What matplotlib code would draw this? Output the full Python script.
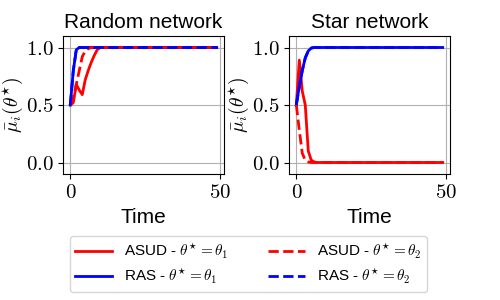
import matplotlib
matplotlib.use('Agg')
import matplotlib.pyplot as plt
import numpy as np
from matplotlib.ticker import FuncFormatter

plt.rcParams['font.family'] = ['Liberation Sans', 'DejaVu Sans']
plt.rcParams['mathtext.fontset'] = 'cm'

# Data, t = 0..49
time = list(range(50))

rand_asud_1 = [0.5, 0.52, 0.68, 0.63, 0.59, 0.72, 0.80, 0.87, 0.93, 0.98] + [1.0] * 40
rand_asud_2 = [0.5, 0.55, 0.68, 0.80, 0.92, 0.97, 0.99] + [1.0] * 43
rand_ras_1 = [0.5, 0.80, 0.98, 1.0] + [1.0] * 46
rand_ras_2 = [0.5, 0.80, 0.98, 1.0] + [1.0] * 46

star_asud_1 = [0.5, 0.89, 0.62, 0.50, 0.10, 0.02, 0.005] + [0.0] * 43
star_asud_2 = [0.5, 0.28, 0.08, 0.02, 0.005] + [0.0] * 45
star_ras_1 = [0.5, 0.66, 0.80, 0.91, 0.97, 0.995] + [1.0] * 44
star_ras_2 = [0.5, 0.66, 0.80, 0.91, 0.97, 0.995] + [1.0] * 44

titles = ['Random network', 'Star network']
panels = [
    (rand_asud_1, rand_ras_1, rand_asud_2, rand_ras_2),
    (star_asud_1, star_ras_1, star_asud_2, star_ras_2),
]
labels = [r'ASUD - $\theta^{\star} = \theta_1$', r'RAS - $\theta^{\star} = \theta_1$',
          r'ASUD - $\theta^{\star} = \theta_2$', r'RAS - $\theta^{\star} = \theta_2$']
colors = ['red', 'blue', 'red', 'blue']
styles = ['-', '-', '--', '--']

fig = plt.figure(figsize=(5, 3), dpi=100)
ax_pos = [[0.126, 0.42, 0.322, 0.46], [0.578, 0.42, 0.322, 0.46]]

handles = []
for k, (title, series) in enumerate(zip(titles, panels)):
    ax = fig.add_axes(ax_pos[k])
    for y, lab, c, ls in zip(series, labels, colors, styles):
        h, = ax.plot(time, y, color=c, linestyle=ls, linewidth=2, label=lab)
        if k == 0:
            handles.append(h)
    ax.set_ylim(-0.1, 1.1)
    ax.set_xticks([0, 50])
    ax.set_yticks([0.0, 0.5, 1.0])
    ax.xaxis.set_major_formatter(FuncFormatter(lambda v, p: r'$%d$' % v))
    ax.yaxis.set_major_formatter(FuncFormatter(lambda v, p: r'$%.1f$' % v))
    ax.tick_params(labelsize=15, pad=3)
    ax.grid(True, color='#b0b0b0', linewidth=0.8)
    ax.set_title(title, fontsize=15)
    ax.set_xlabel('Time', fontsize=15)
    ax.set_ylabel(r'$\bar{\mu}_i(\theta^{\star})$', fontsize=14, labelpad=1)

fig.legend(handles, labels, loc='upper center', bbox_to_anchor=(0.497, 0.212),
           borderaxespad=0, ncol=2, fontsize=11, columnspacing=2.6,
           handlelength=2.4, labelspacing=0.4, borderpad=0.35)

fig.savefig('out.png', dpi=100)
